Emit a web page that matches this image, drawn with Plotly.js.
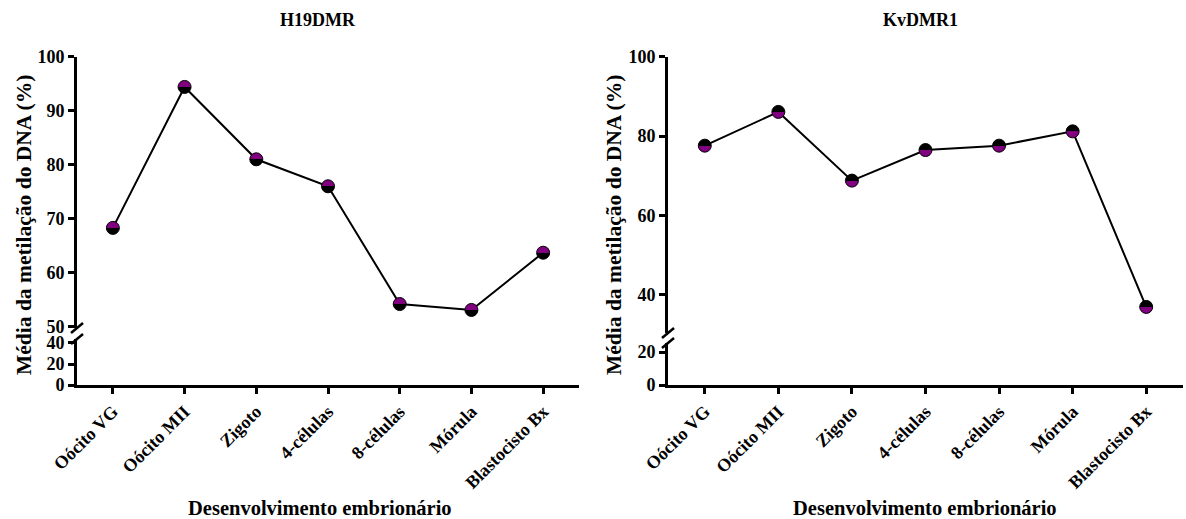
<!DOCTYPE html>
<html>
<head>
<meta charset="utf-8">
<script src="https://cdn.plot.ly/plotly-3.0.1.min.js"></script>
<style>html,body{margin:0;padding:0;background:#fff;}#chart{width:1186px;height:519px;}</style>
</head>
<body>
<div id="chart"></div>
<script>
// ---- data ----
var categories = ["Oócito VG", "Oócito MII", "Zigoto", "4-células", "8-células", "Mórula", "Blastocisto Bx"];
var h19Values = [68.3, 94.4, 81.0, 76.0, 54.2, 53.1, 63.7];
var kvValues = [77.6, 86.1, 68.8, 76.5, 77.6, 81.2, 37.0];
var h19TopTicks = [50, 60, 70, 80, 90, 100];
var h19BottomTicks = [0, 20, 40];
var kvTopTicks = [40, 60, 80, 100];
var kvBottomTicks = [0, 20];
var panelTitles = ["H19DMR", "KvDMR1"];
var yTitle = "Média da metilação do DNA (%)";
var xTitle = "Desenvolvimento embrionário";

// ---- layout helpers ----
var W = 1186, H = 519;
function fx(px) { return px / W; }
function fy(py) { return 1 - py / H; }
var PURPLE = "#800080", BLACK = "#000000";
var FONT = "Liberation Serif, Times New Roman, serif";
var tickFont = {family: FONT, size: 18, color: "#000", weight: "bold"};

function yAx(domTopPx, domBotPx, range, ticks, xanchor) {
  return {
    domain: [fy(domBotPx), fy(domTopPx)], range: range, anchor: xanchor,
    tickmode: "array", tickvals: ticks, ticktext: ticks.map(String),
    showline: true, linewidth: 3, linecolor: "#000", ticks: "outside", ticklen: 6, tickwidth: 3, tickcolor: "#000",
    showgrid: false, zeroline: false, tickfont: tickFont, fixedrange: true
  };
}
function xAx(l, r, yanchor) {
  return {
    domain: [fx(l), fx(r)], range: [-0.5, categories.length - 0.5], anchor: yanchor,
    tickmode: "array", tickvals: categories.map(function(c, i){return i;}), ticktext: categories,
    tickangle: -45, showline: true, linewidth: 3, linecolor: "#000", ticks: "outside", ticklen: 6, tickwidth: 3, tickcolor: "#000",
    showgrid: false, zeroline: false, tickfont: tickFont, fixedrange: true
  };
}

var idx = categories.map(function(c, i){return i;});
var data = [
  {type: "scatter", mode: "lines+markers", x: idx, y: h19Values, xaxis: "x", yaxis: "y",
   line: {color: "#000", width: 2}, cliponaxis: false,
   marker: {size: 13, color: PURPLE, line: {color: "#000", width: 1}}},
  {type: "scatter", mode: "lines+markers", x: idx, y: kvValues, xaxis: "x2", yaxis: "y3",
   line: {color: "#000", width: 2}, cliponaxis: false,
   marker: {size: 13, color: PURPLE, line: {color: "#000", width: 1}}},
  // empty traces so that the lower (broken) axis segments exist as subplots
  {type: "scatter", mode: "markers", x: [], y: [], xaxis: "x", yaxis: "y2", hoverinfo: "skip"},
  {type: "scatter", mode: "markers", x: [], y: [], xaxis: "x2", yaxis: "y4", hoverinfo: "skip"}
];

function slash(xpx, ypx) {
  return {type: "line", xref: "paper", yref: "paper", x0: fx(xpx - 6), y0: fy(ypx + 5), x1: fx(xpx + 6), y1: fy(ypx - 5),
          line: {color: "#000", width: 2.5}};
}

var titleFont = {family: FONT, size: 18, color: "#000", weight: "bold"};
var yTitleFont = {family: FONT, size: 21.5, color: "#000", weight: "bold"};
var xTitleFont = {family: FONT, size: 20.5, color: "#000", weight: "bold"};
function ann(text, xpx, ypx, font, angle) {
  return {text: text, xref: "paper", yref: "paper", x: fx(xpx), y: fy(ypx), xanchor: "center", yanchor: "middle",
          textangle: angle || 0, showarrow: false, font: font};
}

var layout = {
  width: W, height: H, margin: {l: 0, r: 0, t: 0, b: 0}, showlegend: false,
  paper_bgcolor: "#fff", plot_bgcolor: "rgba(0,0,0,0)",
  xaxis: xAx(77, 579, "y2"),
  yaxis: yAx(56.7, 328, [49.76, 100], h19TopTicks, "x"),
  yaxis2: yAx(339, 385, [0, 43.8], h19BottomTicks, "x"),
  xaxis2: xAx(668, 1183, "y4"),
  yaxis3: yAx(56.7, 333, [30.43, 100], kvTopTicks, "x2"),
  yaxis4: yAx(343, 385, [0, 25.5], kvBottomTicks, "x2"),
  shapes: [slash(77, 328), slash(77, 339), slash(668, 333), slash(668, 343)],
  annotations: [
    ann(panelTitles[0], 318, 20, titleFont),
    ann(panelTitles[1], 920, 20, titleFont),
    ann(yTitle, 24, 225, yTitleFont, -90),
    ann(yTitle, 614, 225, yTitleFont, -90),
    ann(xTitle, 320, 508, xTitleFont),
    ann(xTitle, 925, 508, xTitleFont)
  ]
};

var gd = document.getElementById("chart");
Plotly.newPlot(gd, data, layout, {staticPlot: true, displayModeBar: false}).then(function() {
  var svg = gd.querySelector("svg.main-svg");
  var ns = "http://www.w3.org/2000/svg";
  var defs = document.createElementNS(ns, "defs");
  function mk(id, top, bot) {
    var g = document.createElementNS(ns, "linearGradient");
    g.setAttribute("id", id);
    g.setAttribute("x1", "0"); g.setAttribute("y1", "0"); g.setAttribute("x2", "0"); g.setAttribute("y2", "1");
    [[0, top], [0.5, top], [0.5, bot], [1, bot]].forEach(function(s) {
      var st = document.createElementNS(ns, "stop");
      st.setAttribute("offset", s[0]); st.setAttribute("stop-color", s[1]);
      g.appendChild(st);
    });
    defs.appendChild(g);
  }
  mk("halfPurpleTop", PURPLE, BLACK);
  mk("halfBlackTop", BLACK, PURPLE);
  svg.insertBefore(defs, svg.firstChild);
  gd.querySelectorAll(".subplot.xy .scatterlayer path.point").forEach(function(p) {
    p.style.fill = "url(#halfPurpleTop)";
  });
  gd.querySelectorAll(".subplot.x2y3 .scatterlayer path.point").forEach(function(p) {
    p.style.fill = "url(#halfBlackTop)";
  });
});
</script>
</body>
</html>
